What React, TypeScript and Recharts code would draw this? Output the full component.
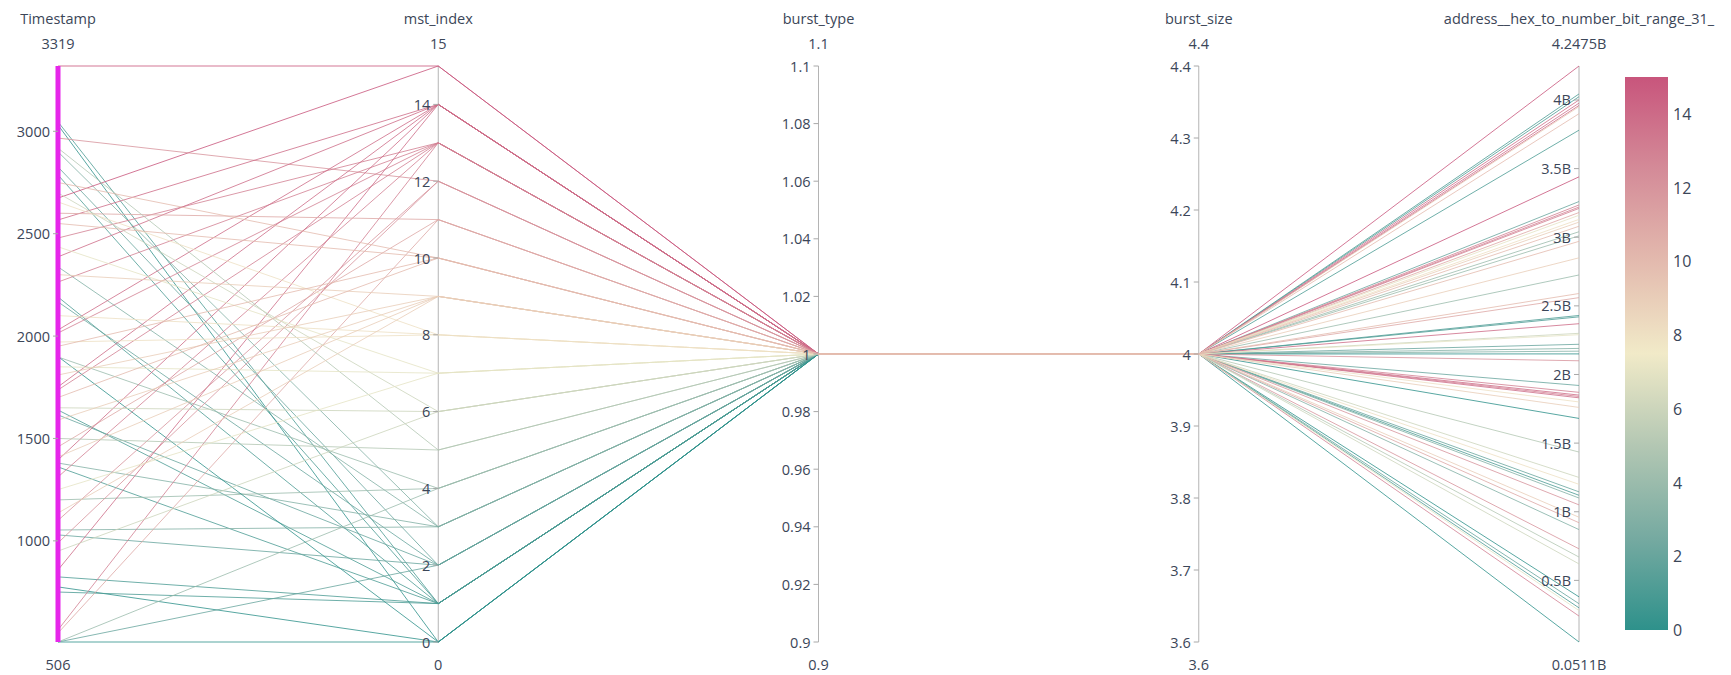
import React from 'react';
import { LineChart, Line, XAxis, YAxis, ReferenceLine, ReferenceDot } from 'recharts';

// parallel coordinates: one Line per record, each axis normalised to its own range
const dimensions = ['Timestamp', 'mst_index', 'burst_type', 'burst_size', 'address__hex_to_number_bit_range_31_'];
const ranges: [number, number][] = [[506, 3319], [0, 15], [0.9, 1.1], [3.6, 4.4], [0.0511, 4.2475]];
const rangeLabels = [['506', '3319'], ['0', '15'], ['0.9', '1.1'], ['3.6', '4.4'], ['0.0511B', '4.2475B']];

const tickValues = [
  [1000, 1500, 2000, 2500, 3000],
  [0, 2, 4, 6, 8, 10, 12, 14],
  [0.9, 0.92, 0.94, 0.96, 0.98, 1, 1.02, 1.04, 1.06, 1.08, 1.1],
  [3.6, 3.7, 3.8, 3.9, 4, 4.1, 4.2, 4.3, 4.4],
  [0.5, 1, 1.5, 2, 2.5, 3, 3.5, 4],
];
const tickLabels = [
  ['1000', '1500', '2000', '2500', '3000'],
  ['0', '2', '4', '6', '8', '10', '12', '14'],
  ['0.9', '0.92', '0.94', '0.96', '0.98', '1', '1.02', '1.04', '1.06', '1.08', '1.1'],
  ['3.6', '3.7', '3.8', '3.9', '4', '4.1', '4.2', '4.3', '4.4'],
  ['0.5B', '1B', '1.5B', '2B', '2.5B', '3B', '3.5B', '4B'],
];

const timestamp = [
  3046, 3031, 2826, 2787, 2338, 2191, 2167, 1898, 1639, 1615, 1380, 1361, 1053, 1029, 824, 775, 750, 506, 506, 506, 2900, 1200, 1900,
  3319, 2674, 2967, 2567, 2479, 2387, 2264, 2030, 2015, 1752, 1737, 1459, 1395, 1312, 990, 858, 565, 550, 2600, 1100,
  2918, 1500, 2699, 1650, 950, 2436, 1250, 1850, 2655, 1971, 2100, 1810, 1590, 1410, 1136, 2300, 2750, 2550, 1950, 1700,
];
const mstIndex = [
  1, 0, 2, 1, 3, 1, 2, 4, 1, 2, 3, 1, 3, 2, 1, 0, 1, 0, 2, 4, 3, 4, 0,
  15, 15, 12, 14, 13, 14, 13, 14, 13, 14, 13, 11, 14, 13, 12, 14, 13, 11, 11, 12,
  5, 5, 6, 6, 6, 7, 7, 7, 8, 8, 8, 9, 9, 9, 9, 9, 10, 10, 10, 10,
];
const burstType = timestamp.map(() => 1);
const burstSize = timestamp.map(() => 4);
// address in billions
const address = [
  4.044, 0.38, 3.26, 2.43, 2.19, 4.024, 1.145, 3.04, 1.12, 2.22, 0.87, 3.78, 2.17, 0.33, 2.42, 1.68, 0.3, 2.15, 1.92, 3.01, 1.1, 2.725, 0.0511,
  4.2475, 3.44, 1.05, 4.0, 1.87, 3.977, 3.235, 1.85, 3.22, 3.96, 1.84, 2.56, 1.83, 3.21, 0.73, 2.37, 0.24, 0.92, 3.18, 2.1,
  1.435, 0.67, 2.3, 0.62, 1.25, 3.16, 0.28, 2.29, 3.13, 1.8, 1.2, 3.951, 3.11, 1.76, 2.85, 0.96, 3.9, 3.08, 2.97, 2.59,
];

const columns = [timestamp, mstIndex, burstType, burstSize, address];
const axisSlots = [0, 1, 2, 3, 4];

const tealrose = ['#2e918b', '#76aaa1', '#b3c7b3', '#f1eac8', '#e3baae', '#d48b98', '#c8557c'];
const cmin = 0;
const cmax = 15;
const colorbarTicks = [0, 2, 4, 6, 8, 10, 12, 14];

const hexToRgb = (h: string) => [1, 3, 5].map((i) => parseInt(h.slice(i, i + 2), 16));
const colorFor = (v: number) => {
  const t = Math.min(1, Math.max(0, (v - cmin) / (cmax - cmin))) * (tealrose.length - 1);
  const i = Math.min(tealrose.length - 2, Math.floor(t));
  const f = t - i;
  const a = hexToRgb(tealrose[i]);
  const b = hexToRgb(tealrose[i + 1]);
  const c = a.map((x, k) => Math.round(x + (b[k] - x) * f));
  return `rgb(${c[0]},${c[1]},${c[2]})`;
};

const norm = (v: number, [lo, hi]: [number, number]) => (v - lo) / (hi - lo);

const chartData = dimensions.map((name, j) => {
  const row: Record<string, number | string> = { slot: axisSlots[j], name };
  columns[j].forEach((v, i) => {
    row[`r${i}`] = norm(v, ranges[j]);
  });
  return row;
});

const font = '"Open Sans", sans-serif';
const textColor = '#3b4658';

const Tick = ({ cx, cy, label }: any) => (
  <g>
    <line x1={cx - 5} y1={cy} x2={cx} y2={cy} stroke="#a8a8a8" />
    <text x={cx - 8} y={cy} textAnchor="end" dominantBaseline="central" fontSize={14.5} fill={textColor} fontFamily={font}>
      {label}
    </text>
  </g>
);

const AxisHead = ({ cx, cy, title, top }: any) => (
  <g>
    <text x={cx} y={cy - 42} textAnchor="middle" fontSize={14.5} fill={textColor} fontFamily={font}>{title}</text>
    <text x={cx} y={cy - 17} textAnchor="middle" fontSize={14.5} fill={textColor} fontFamily={font}>{top}</text>
  </g>
);

const AxisFoot = ({ cx, cy, bottom }: any) => (
  <text x={cx} y={cy + 28} textAnchor="middle" fontSize={14.5} fill={textColor} fontFamily={font}>{bottom}</text>
);

const App: React.FC = () => {
  const gradient = `linear-gradient(to top, ${tealrose.join(', ')})`;
  return (
    <div style={{ position: 'absolute', left: 0, top: 0, width: 1731, height: 675, background: '#fff', overflow: 'hidden' }}>
      <LineChart width={1731} height={675} data={chartData} margin={{ top: 66, right: 152, bottom: 33, left: 58 }}>
        <XAxis type="number" dataKey="slot" domain={[0, 4]} hide />
        <YAxis type="number" domain={[0, 1]} hide />
        {axisSlots.map((s) => (
          <ReferenceLine key={`ax${s}`} x={s} stroke="#b4b4b4" strokeWidth={1} ifOverflow="visible" />
        ))}
        {timestamp.map((_, i) => (
          <Line
            key={i}
            type="linear"
            dataKey={`r${i}`}
            stroke={colorFor(mstIndex[i])}
            strokeWidth={1}
            strokeOpacity={0.8}
            dot={false}
            activeDot={false}
            isAnimationActive={false}
          />
        ))}
        <ReferenceLine x={axisSlots[0]} stroke="#e626ea" strokeWidth={5} ifOverflow="visible" />
        {dimensions.map((d, j) =>
          tickValues[j].map((v, k) => (
            <ReferenceDot
              key={`t${j}-${k}`}
              x={axisSlots[j]}
              y={norm(v, ranges[j])}
              ifOverflow="visible"
              shape={(p: any) => <Tick {...p} label={tickLabels[j][k]} />}
            />
          ))
        )}
        {dimensions.map((d, j) => (
          <ReferenceDot
            key={`h${j}`}
            x={axisSlots[j]}
            y={1}
            ifOverflow="visible"
            shape={(p: any) => <AxisHead {...p} title={d} top={rangeLabels[j][1]} />}
          />
        ))}
        {dimensions.map((d, j) => (
          <ReferenceDot
            key={`f${j}`}
            x={axisSlots[j]}
            y={0}
            ifOverflow="visible"
            shape={(p: any) => <AxisFoot {...p} bottom={rangeLabels[j][0]} />}
          />
        ))}
      </LineChart>
      <div style={{ position: 'absolute', left: 1625, top: 77, width: 43, height: 553, background: gradient }} />
      {colorbarTicks.map((t) => (
        <div
          key={t}
          style={{
            position: 'absolute',
            left: 1673,
            top: 630 - ((t - cmin) / (cmax - cmin)) * 553 - 11,
            fontFamily: font,
            fontSize: 16,
            lineHeight: '22px',
            color: textColor,
          }}
        >
          {t}
        </div>
      ))}
    </div>
  );
};

export default App;
